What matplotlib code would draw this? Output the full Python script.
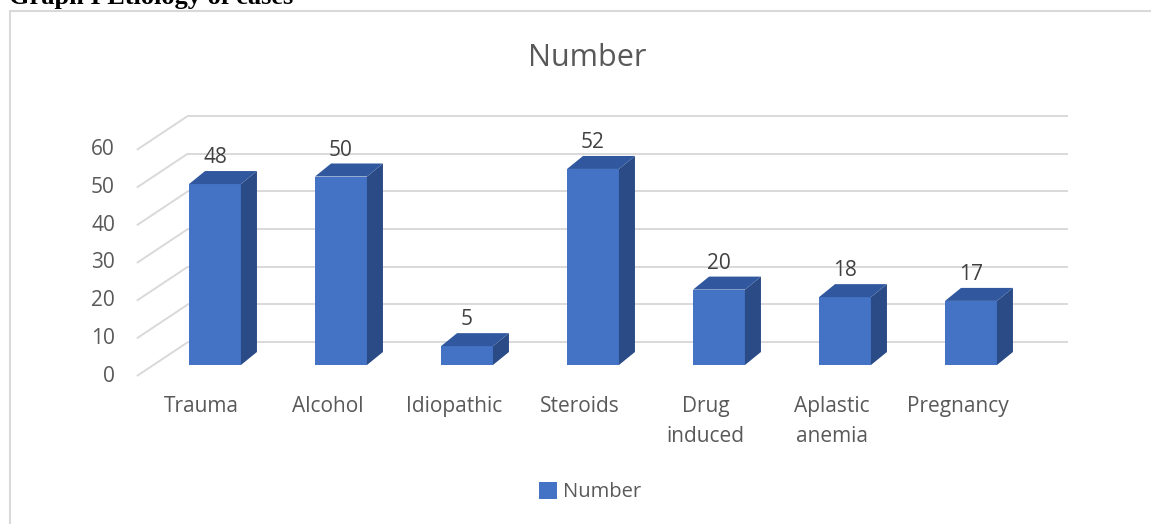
import matplotlib
matplotlib.use("Agg")
import matplotlib.pyplot as plt
from matplotlib.patches import Polygon, Rectangle, Patch

# ---- data ----
categories = ["Trauma", "Alcohol", "Idiopathic", "Steroids", "Drug\ninduced", "Aplastic\nanemia", "Pregnancy"]
values = [48, 50, 5, 52, 20, 18, 17]
yticks = [0, 10, 20, 30, 40, 50, 60]
series_name = "Number"
caption = "Graph I Etiology of cases"

# ---- style ----
FRONT = "#4472C4"
SIDE = "#2A4B86"
TOP = "#31589E"
GRID = "#D9D9D9"
TXT = "#595959"
FONT = ["Open Sans", "DejaVu Sans"]

W, H = 1151, 524
fig = plt.figure(figsize=(W / 100, H / 100), dpi=100)
ax = fig.add_axes([0, 0, 1, 1])
ax.set_axis_off()

# data mapping: category index along x, value along y
x0px, xstep = 215, 126.0
y0px, ystep = 365, 3.77
ax.set_xlim((0 - x0px) / xstep, (W - x0px) / xstep)
ax.set_ylim((y0px - H) / ystep, (y0px - 0) / ystep)

# 3D geometry (in data units)
bw = 0.206            # half width of bar front
bdx, bdy = 0.127, 3.45  # bar depth offset
wall_front_x, wall_front_dy = -0.62, -2.92
wall_back_x, wall_back_dy = -0.214, 6.1
wall_right_x = (1068 - x0px) / xstep

# gridlines: back wall + left wall diagonals
for v in yticks:
    ax.plot([wall_back_x, wall_right_x], [v + wall_back_dy] * 2, color=GRID, lw=1.4,
            solid_capstyle="butt", zorder=1)
    ax.plot([wall_front_x, wall_back_x], [v + wall_front_dy, v + wall_back_dy], color=GRID,
            lw=1.4, solid_capstyle="butt", zorder=1)
    ax.text(-0.794, v + wall_front_dy, str(v), ha="right", va="center", fontsize=15,
            color=TXT, family=FONT)

# bars
for i, v in enumerate(values):
    xl, xr = i - bw, i + bw
    ax.add_patch(Rectangle((xl, 0), 2 * bw, v, facecolor=FRONT, edgecolor="none", zorder=3))
    ax.add_patch(Polygon([(xr, 0), (xr + bdx, bdy), (xr + bdx, v + bdy), (xr, v)],
                         closed=True, facecolor=SIDE, edgecolor="none", zorder=3))
    ax.add_patch(Polygon([(xl, v), (xr, v), (xr + bdx, v + bdy), (xl + bdx, v + bdy)],
                         closed=True, facecolor=TOP, edgecolor="none", zorder=3))
    ax.text(i, v + 7.0, str(v), ha="center", va="center", fontsize=15, color="#404040",
            family=FONT, zorder=4)

# category labels
for i, c in enumerate(categories):
    for k, line in enumerate(c.split("\n")):
        ax.text(i - 0.105, (y0px - (412 + 30 * k)) / ystep, line, ha="center", va="baseline",
                fontsize=15, color=TXT, family=FONT)

# title
fig.text(587 / W, 1 - 66 / H, series_name, ha="center", va="baseline", fontsize=22,
         color=TXT, family=FONT)

# legend
leg = ax.legend(handles=[Patch(facecolor=FRONT, edgecolor="none", label=series_name)],
                loc="center", bbox_to_anchor=(590 / W, 1 - 492 / H),
                bbox_transform=fig.transFigure, frameon=False,
                handlelength=0.9, handleheight=0.9, handletextpad=0.3,
                prop={"family": FONT, "size": 14.5})
for t in leg.get_texts():
    t.set_color(TXT)

# chart border
fig.add_artist(Rectangle((10 / W, -0.2), 2.0, 1.2 - 11 / H, transform=fig.transFigure,
                         facecolor="none", edgecolor=GRID, lw=1.5, clip_on=False))

# caption (partly cut at top, as in the reference)
fig.text(9 / W, 1 - 4 / H, caption, ha="left", va="baseline", fontsize=19,
         fontweight="bold", family=["Liberation Serif", "DejaVu Serif"], color="black")

fig.savefig("out.png", dpi=100)
